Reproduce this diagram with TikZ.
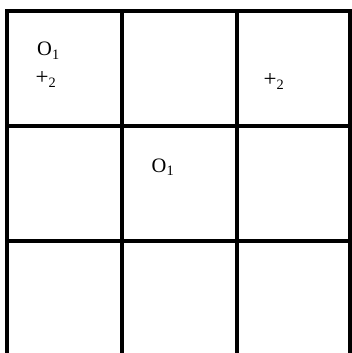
\documentclass[tikz,border=0pt]{standalone}
\usepackage{fontspec}
\setmainfont{Liberation Serif}
\usepackage{tikz}
\usetikzlibrary{positioning}
\tikzset{
  gridline/.style={line width=4pt,line cap=rect},
  mark text/.style={anchor=base west,inner sep=0pt,font=\fontsize{20.5}{24}\selectfont}
}

\begin{document}
\begin{tikzpicture}[x=1pt,y=-1pt]
\useasboundingbox (0,0) rectangle (352,353);
\clip (0,0) rectangle (352,353);
\foreach \gx in {7,121.5,236.5,349.5}
  \draw[gridline] (\gx,11) -- (\gx,356);
\foreach \gy in {11,126,241,356}
  \draw[gridline] (7,\gy) -- (349.5,\gy);
\node[mark text] (oA) at (37,56) {O\textsubscript{1}};
\node[mark text] (pA) at (35.5,84) {{\fontsize{23}{24}\selectfont+}\textsubscript{2}};
\node[mark text] (oB) at (151.5,172) {O\textsubscript{1}};
\node[mark text] (pB) at (263.5,86) {{\fontsize{23}{24}\selectfont+}\textsubscript{2}};
\end{tikzpicture}
\end{document}
